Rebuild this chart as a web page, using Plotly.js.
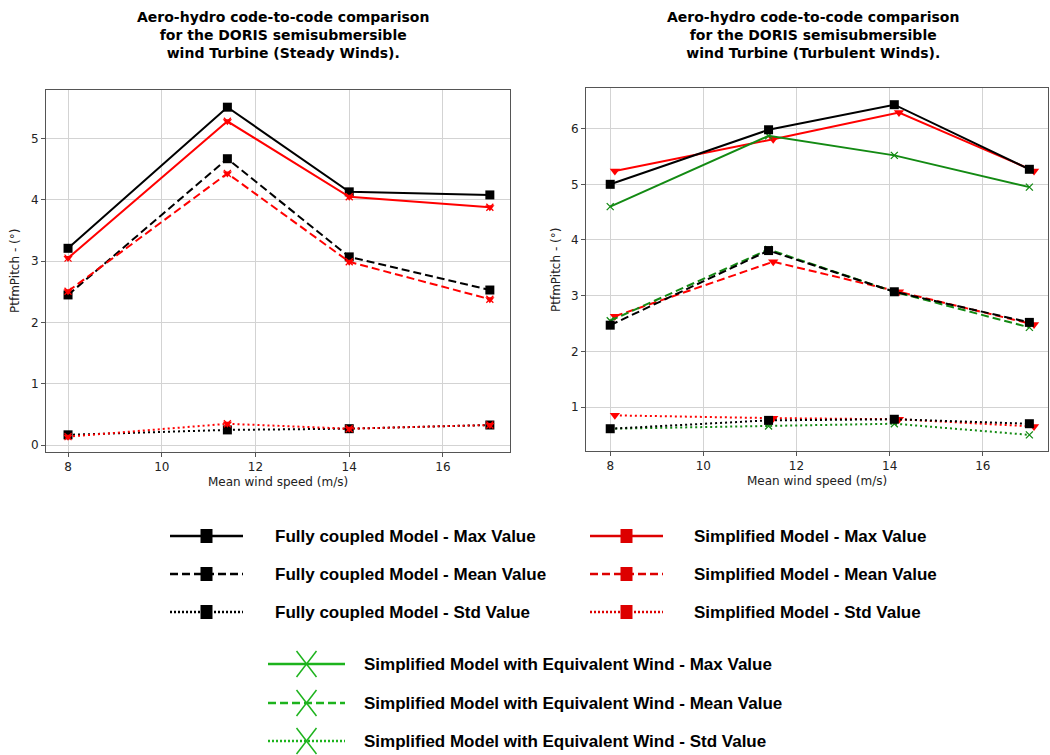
<!DOCTYPE html>
<html>
<head>
<meta charset="utf-8">
<script src="https://cdn.plot.ly/plotly-3.0.1.min.js"></script>
<style>html,body{margin:0;padding:0;background:#fff;} #chart{width:1050px;height:755px;}</style>
</head>
<body>
<div id="chart"></div>
<script>
// ---------- DATA ----------
const xSteady = [8, 11.4, 14, 17];
const steadyFullyMax  = [3.21, 5.51, 4.13, 4.08];
const steadySimpMax   = [3.05, 5.28, 4.05, 3.88];
const steadyFullyMean = [2.45, 4.67, 3.07, 2.53];
const steadySimpMean  = [2.51, 4.43, 2.99, 2.38];
const steadyFullyStd  = [0.17, 0.25, 0.27, 0.33];
const steadySimpStd   = [0.14, 0.35, 0.27, 0.33];

const xTurbFully = [8, 11.4, 14.1, 17];
const xTurbSimp  = [8.1, 11.5, 14.2, 17.1];
const xTurbEq    = [8, 11.4, 14.1, 17];
const turbFullyMax  = [5.00, 5.98, 6.43, 5.27];
const turbSimpMax   = [5.24, 5.81, 6.29, 5.24];
const turbEqMax     = [4.60, 5.87, 5.52, 4.95];
const turbFullyMean = [2.47, 3.81, 3.07, 2.52];
const turbSimpMean  = [2.63, 3.61, 3.07, 2.48];
const turbEqMean    = [2.55, 3.83, 3.07, 2.43];
const turbFullyStd  = [0.61, 0.76, 0.78, 0.70];
const turbSimpStd   = [0.85, 0.80, 0.78, 0.65];
const turbEqStd     = [0.61, 0.66, 0.70, 0.50];

const xTickVals = [8, 10, 12, 14, 16];
const titleLeft  = "Aero-hydro code-to-code comparison<br>for the DORIS semisubmersible<br>wind Turbine (Steady Winds).";
const titleRight = "Aero-hydro code-to-code comparison<br>for the DORIS semisubmersible<br>wind Turbine (Turbulent Winds).";
const xTitle = "Mean wind speed (m/s)";
const yTitle = "PtfmPitch - (°)";

const legendRows = [
  {label: "Fully coupled Model - Max Value",  color: "#000000", dash: "solid", marker: "square", col: 0, row: 0},
  {label: "Fully coupled Model - Mean Value", color: "#000000", dash: "dash",  marker: "square", col: 0, row: 1},
  {label: "Fully coupled Model - Std Value",  color: "#000000", dash: "dot",   marker: "square", col: 0, row: 2},
  {label: "Simplified Model - Max Value",  color: "#dd0000", dash: "solid", marker: "square", col: 1, row: 0},
  {label: "Simplified Model - Mean Value", color: "#dd0000", dash: "dash",  marker: "square", col: 1, row: 1},
  {label: "Simplified Model - Std Value",  color: "#dd0000", dash: "dot",   marker: "square", col: 1, row: 2},
  {label: "Simplified Model with Equivalent Wind - Max Value",  color: "#1db31d", dash: "solid", marker: "x", col: 2, row: 0},
  {label: "Simplified Model with Equivalent Wind - Mean Value", color: "#1db31d", dash: "dash",  marker: "x", col: 2, row: 1},
  {label: "Simplified Model with Equivalent Wind - Std Value",  color: "#1db31d", dash: "dot",   marker: "x", col: 2, row: 2}
];

// ---------- STYLES ----------
const W = 1050, H = 755;
const px = v => v / W;
const py = v => 1 - v / H;
const DASH = {solid: "solid", dash: "8px,4px", dot: "2px,3px"};
const BLACK = "#000000", RED = "#ff0000", GREEN = "#138a13";

function tr(x, y, color, dash, symbol, size, xa, ya) {
  return {
    x: x, y: y, type: "scatter", mode: "lines+markers", xaxis: xa, yaxis: ya,
    line: {color: color, width: 2, dash: DASH[dash]},
    marker: {symbol: symbol, size: size, color: color, line: {color: color, width: symbol.indexOf("x-thin") === 0 ? 1.3 : 0}},
    showlegend: false, hoverinfo: "x+y"
  };
}
function mk(x, y, color, symbol, size, xa, ya) {
  return {x: x, y: y, type: "scatter", mode: "markers", xaxis: xa, yaxis: ya,
    marker: {symbol: symbol, size: size, color: color, line: {color: color, width: 1.3}},
    showlegend: false, hoverinfo: "skip"};
}

const data = [
  // left (steady)
  tr(xSteady, steadyFullyMax,  BLACK, "solid", "square", 9, "x", "y"),
  tr(xSteady, steadyFullyMean, BLACK, "dash",  "square", 9, "x", "y"),
  tr(xSteady, steadyFullyStd,  BLACK, "dot",   "square", 9, "x", "y"),
  tr(xSteady, steadySimpMax,   RED, "solid", "triangle-down", 8, "x", "y"),
  tr(xSteady, steadySimpMean,  RED, "dash",  "triangle-down", 8, "x", "y"),
  tr(xSteady, steadySimpStd,   RED, "dot",   "triangle-down", 8, "x", "y"),
  mk(xSteady, steadySimpMax,  RED, "x-thin-open", 7, "x", "y"),
  mk(xSteady, steadySimpMean, RED, "x-thin-open", 7, "x", "y"),
  mk(xSteady, steadySimpStd,  RED, "x-thin-open", 7, "x", "y"),
  // right (turbulent)
  tr(xTurbSimp, turbSimpMax,  RED, "solid", "triangle-down", 9, "x2", "y2"),
  tr(xTurbSimp, turbSimpMean, RED, "dash",  "triangle-down", 9, "x2", "y2"),
  tr(xTurbSimp, turbSimpStd,  RED, "dot",   "triangle-down", 9, "x2", "y2"),
  tr(xTurbEq, turbEqMax,  GREEN, "solid", "x-thin-open", 7, "x2", "y2"),
  tr(xTurbEq, turbEqMean, GREEN, "dash",  "x-thin-open", 7, "x2", "y2"),
  tr(xTurbEq, turbEqStd,  GREEN, "dot",   "x-thin-open", 7, "x2", "y2"),
  tr(xTurbFully, turbFullyMax,  BLACK, "solid", "square", 9, "x2", "y2"),
  tr(xTurbFully, turbFullyMean, BLACK, "dash",  "square", 9, "x2", "y2"),
  tr(xTurbFully, turbFullyStd,  BLACK, "dot",   "square", 9, "x2", "y2")
];

const TICKFONT = {family: "DejaVu Sans", size: 12, color: "#222"};
function xax(domain, range, anchor) {
  return {domain: domain, range: range, anchor: anchor, tickvals: xTickVals,
    showgrid: true, gridcolor: "#d3d3d3", gridwidth: 1, zeroline: false,
    showline: true, linecolor: "#555", linewidth: 1, mirror: true,
    ticks: "outside", ticklen: 4, tickcolor: "#555", tickfont: TICKFONT, fixedrange: true};
}
function yax(domain, range, anchor) {
  return {domain: domain, range: range, anchor: anchor, dtick: 1, tick0: 0,
    showgrid: true, gridcolor: "#d3d3d3", gridwidth: 1, zeroline: false,
    showline: true, linecolor: "#555", linewidth: 1, mirror: true,
    ticks: "outside", ticklen: 4, tickcolor: "#555", tickfont: TICKFONT, fixedrange: true};
}

const annotations = [
  {text: titleLeft, x: px(283), y: py(35), xref: "paper", yref: "paper", showarrow: false,
   xanchor: "center", yanchor: "middle", align: "center",
   font: {family: "DejaVu Sans", size: 14, color: "#000", weight: "bold"}},
  {text: titleRight, x: px(813), y: py(35), xref: "paper", yref: "paper", showarrow: false,
   xanchor: "center", yanchor: "middle", align: "center",
   font: {family: "DejaVu Sans", size: 14, color: "#000", weight: "bold"}},
  {text: xTitle, x: px(278), y: py(482), xref: "paper", yref: "paper", showarrow: false,
   xanchor: "center", yanchor: "middle", font: {family: "DejaVu Sans", size: 12, color: "#222"}},
  {text: xTitle, x: px(817), y: py(481), xref: "paper", yref: "paper", showarrow: false,
   xanchor: "center", yanchor: "middle", font: {family: "DejaVu Sans", size: 12, color: "#222"}},
  {text: yTitle, x: px(15), y: py(271), xref: "paper", yref: "paper", showarrow: false, textangle: -90,
   xanchor: "center", yanchor: "middle", font: {family: "DejaVu Sans", size: 12, color: "#222"}},
  {text: yTitle, x: px(556), y: py(270), xref: "paper", yref: "paper", showarrow: false, textangle: -90,
   xanchor: "center", yanchor: "middle", font: {family: "DejaVu Sans", size: 12, color: "#222"}}
];

const shapes = [];
const colLine = [[170, 243], [590, 663], [268, 345]];
const colText = [273, 692, 362];
const rowY = [[536, 574, 612], [536, 574, 612], [664, 703, 741]];
const LEGDASH = {solid: "solid", dash: "8px,4px", dot: "2px,2px"};
legendRows.forEach(r => {
  const [x0, x1] = colLine[r.col];
  const y = rowY[r.col][r.row];
  const xc = (x0 + x1) / 2;
  shapes.push({type: "line", xref: "paper", yref: "paper", x0: px(x0), x1: px(x1), y0: py(y), y1: py(y),
    line: {color: r.color, width: 2.5, dash: LEGDASH[r.dash]}});
  if (r.marker === "square") {
    shapes.push({type: "rect", xref: "paper", yref: "paper", x0: px(xc - 6), x1: px(xc + 6), y0: py(y - 7), y1: py(y + 7),
      fillcolor: r.color, line: {color: r.color, width: 0}});
  } else {
    shapes.push({type: "line", xref: "paper", yref: "paper", x0: px(xc - 10), x1: px(xc + 10), y0: py(y - 13), y1: py(y + 13),
      line: {color: r.color, width: 1.5}});
    shapes.push({type: "line", xref: "paper", yref: "paper", x0: px(xc + 10), x1: px(xc - 10), y0: py(y - 13), y1: py(y + 13),
      line: {color: r.color, width: 1.5}});
  }
  annotations.push({text: r.label, x: px(colText[r.col]), y: py(y), xref: "paper", yref: "paper",
    showarrow: false, xanchor: "left", yanchor: "middle",
    font: {family: "Liberation Sans Narrow, Arial Narrow, Liberation Sans, Arial", size: 17, color: "#000", weight: "bold"}});
});

const layout = {
  width: W, height: H, margin: {l: 0, r: 0, t: 0, b: 0},
  paper_bgcolor: "#fff", plot_bgcolor: "#fff", showlegend: false,
  xaxis:  xax([px(46), px(510)], [7.53, 17.43], "y"),
  yaxis:  yax([1 - 452 / H, 1 - 90 / H], [-0.11, 5.79], "x"),
  xaxis2: xax([px(586), px(1048)], [7.48, 17.40], "y2"),
  yaxis2: yax([1 - 451 / H, 1 - 88 / H], [0.21, 6.73], "x2"),
  annotations: annotations, shapes: shapes
};

Plotly.newPlot("chart", data, layout, {displayModeBar: false, staticPlot: true});
</script>
</body>
</html>
